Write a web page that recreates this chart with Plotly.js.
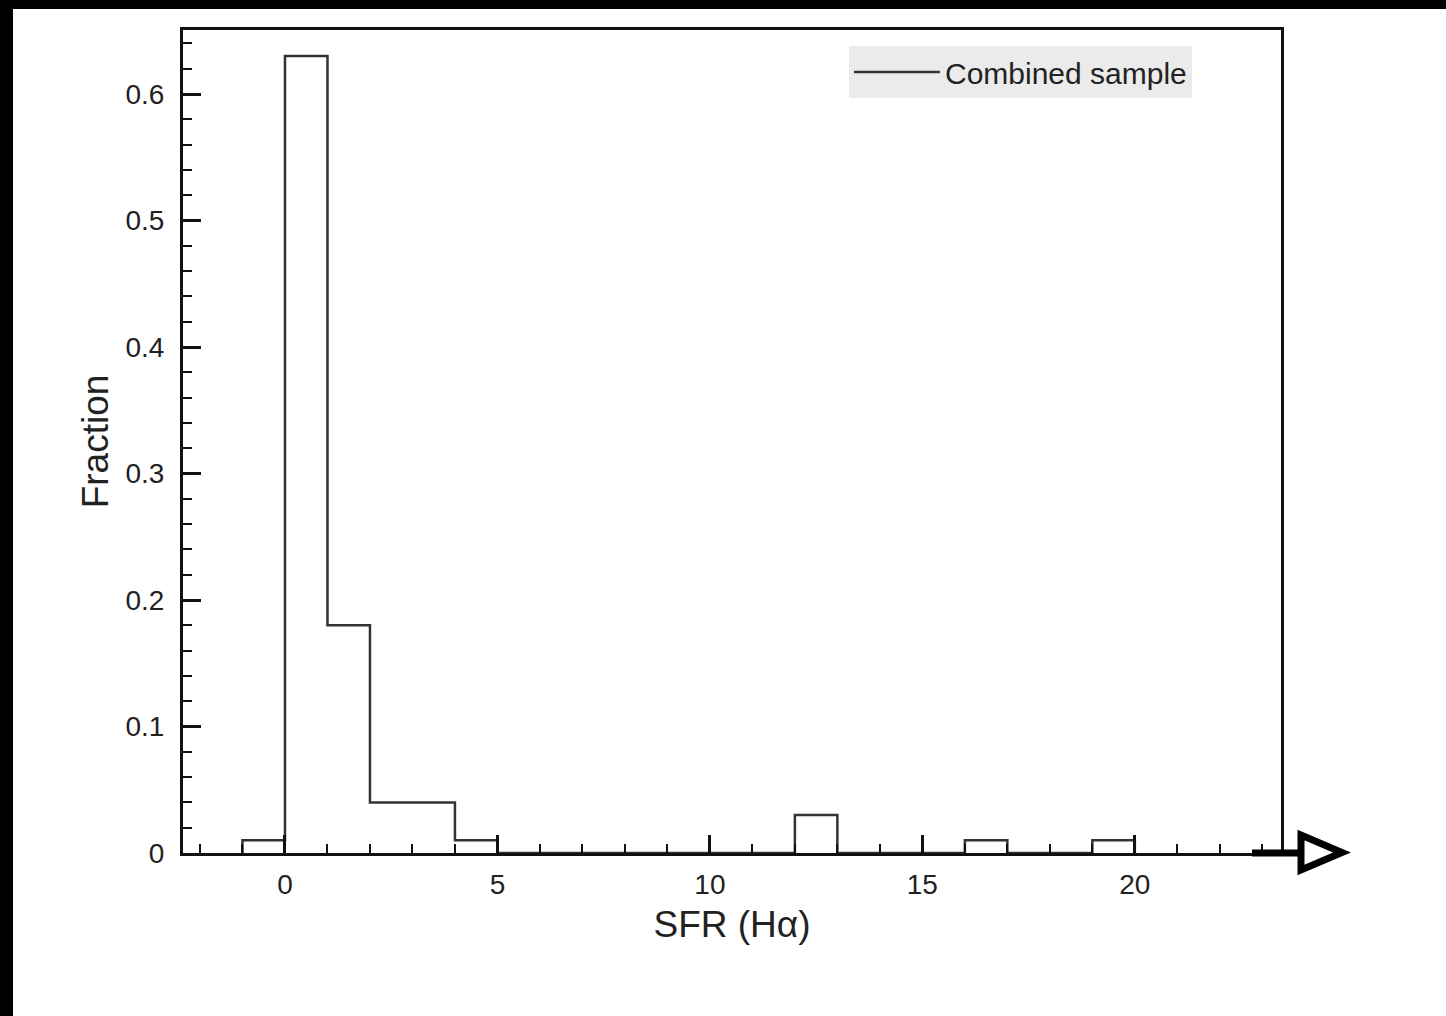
<!DOCTYPE html>
<html>
<head>
<meta charset="utf-8">
<script src="https://cdn.plot.ly/plotly-3.0.1.min.js"></script>
<style>
  html, body { margin: 0; padding: 0; background: #000; width: 1446px; height: 1016px; overflow: hidden; }
  #chart { position: absolute; left: 13px; top: 9px; width: 1433px; height: 1007px; background: #fff; }
</style>
</head>
<body>
<div id="chart"></div>
<script>
// Histogram: SFR (Hα), bin width 1, left bin edges and fraction per bin
const binLeft = [-1, 0, 1, 2, 3, 4, 5, 6, 7, 8, 9, 10, 11, 12, 13, 14, 15, 16, 17, 18, 19];
const fraction = [0.01, 0.63, 0.18, 0.04, 0.04, 0.01, 0, 0, 0, 0, 0, 0, 0, 0.03, 0, 0, 0, 0.01, 0, 0, 0.01];
const binWidth = 1;
const seriesName = "Combined sample";
const xTickVals = [0, 5, 10, 15, 20];
const yTickVals = [0, 0.1, 0.2, 0.3, 0.4, 0.5, 0.6];
const yTickText = ["0", "0.1", "0.2", "0.3", "0.4", "0.5", "0.6"];

// Build step outline (histogram "step" style): each point sits at its bin's left edge
const stepX = [], stepY = [];
stepX.push(binLeft[0]); stepY.push(0);
for (let i = 0; i < binLeft.length; i++) { stepX.push(binLeft[i]); stepY.push(fraction[i]); }
stepX.push(binLeft[binLeft.length - 1] + binWidth); stepY.push(0);

const FONT = "Liberation Sans, Arial, Helvetica, sans-serif";
const TXT = "#222222";

const trace = {
  type: "scatter",
  mode: "lines",
  x: stepX,
  y: stepY,
  name: seriesName,
  line: { shape: "hv", color: "#333333", width: 2.5 },
  hoverinfo: "skip"
};

// plot area in page px: x 183..1281, y 30..853
const px = X => (X - 183) / 1098;
const py = Y => (853 - Y) / 823;

const layout = {
  width: 1433,
  height: 1007,
  margin: { l: 170, r: 165, t: 21, b: 163 },
  paper_bgcolor: "#ffffff",
  plot_bgcolor: "#ffffff",
  font: { family: FONT, color: TXT },
  showlegend: true,
  legend: {
    x: px(849), y: py(46), xanchor: "left", yanchor: "top",
    bgcolor: "#ebebeb",
    borderwidth: 0,
    font: { family: FONT, size: 30, color: TXT },
    itemwidth: 86
  },
  xaxis: {
    range: [-2.4, 23.44],
    tickmode: "array",
    tickvals: xTickVals,
    ticks: "inside",
    ticklen: 18,
    tickwidth: 3,
    tickcolor: "#111",
    minor: { dtick: 1, ticks: "inside", ticklen: 9, tickwidth: 2, tickcolor: "#111" },
    showgrid: false,
    zeroline: false,
    showline: true,
    linecolor: "#111",
    linewidth: 3,
    mirror: true,
    tickfont: { family: FONT, size: 28, color: TXT },
    ticklabelstandoff: 4,
    title: { text: "SFR (Hα)", font: { family: FONT, size: 37, color: TXT }, standoff: 13 }
  },
  yaxis: {
    range: [0, 0.6506],
    tickmode: "array",
    tickvals: yTickVals,
    ticktext: yTickText,
    ticks: "inside",
    ticklen: 18,
    tickwidth: 3,
    tickcolor: "#111",
    minor: { dtick: 0.02, ticks: "inside", ticklen: 9, tickwidth: 2, tickcolor: "#111" },
    showgrid: false,
    zeroline: false,
    showline: true,
    linecolor: "#111",
    linewidth: 3,
    mirror: true,
    tickfont: { family: FONT, size: 28, color: TXT },
    ticklabelstandoff: 10,
    title: { text: "Fraction", font: { family: FONT, size: 37, color: TXT }, standoff: 6 }
  },
  shapes: [
    { type: "line", xref: "paper", yref: "paper", x0: px(1252), x1: px(1300), y0: py(853), y1: py(853),
      line: { color: "#000", width: 7 }, layer: "above" },
    { type: "path", xref: "paper", yref: "paper",
      path: `M ${px(1301)} ${py(835)} L ${px(1301)} ${py(870)} L ${px(1342)} ${py(852.5)} Z`,
      fillcolor: "#ffffff", line: { color: "#000", width: 7 }, layer: "above" }
  ]
};

Plotly.newPlot("chart", [trace], layout, { displayModeBar: false, staticPlot: true });
</script>
</body>
</html>
